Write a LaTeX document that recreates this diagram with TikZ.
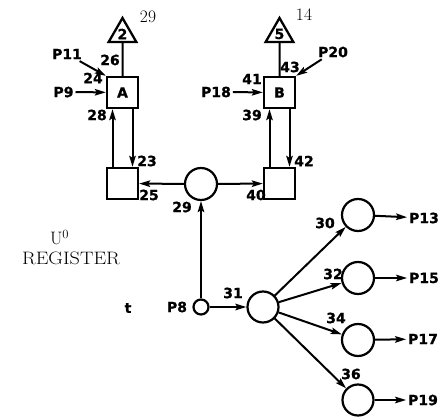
\documentclass[tikz,border=0pt]{standalone}
\usepackage{fontspec}
\newfontfamily\lab[FakeBold=1]{DejaVu Sans Bold}
\usetikzlibrary{arrows.meta,shapes.geometric}
\begin{document}
\begin{tikzpicture}[x=1pt,y=-1pt,line width=2pt,
  lbl/.style={font=\lab\fontsize{14}{14}\selectfont,inner sep=1pt},
  box/.style={draw,line width=2.3pt,minimum size=31pt,inner sep=0pt,font=\lab\fontsize{14}{14}\selectfont},
  circ/.style={draw,circle,line width=2.2pt,minimum size=32pt,inner sep=0pt},
  tri/.style={draw,regular polygon,regular polygon sides=3,minimum size=32pt,inner sep=0pt,line width=2.3pt,font=\lab\fontsize{14}{14}\selectfont},
  arr/.style={-{Stealth[length=11pt,width=6.5pt,inset=2pt]}},
  ser/.style={font=\fontsize{17.5}{17.5}\selectfont,inner sep=0pt,anchor=base},
  reg/.style={font=\fontsize{18}{18}\selectfont,inner sep=0pt}]
\useasboundingbox (0,0) rectangle (440,417);
% main shapes
\node[tri] (t2) at (122.5,34) {2};
\node[tri] (t5) at (279.5,34) {5};
\node[box] (A) at (122.5,92.5) {A};
\node[box] (B) at (279.5,92.5) {B};
\node[box] (L) at (122.5,183.5) {};
\node[box] (R) at (279.5,183.5) {};
\node[circ] (c29) at (201,184) {};
\node[circ,minimum size=15pt] (p8c) at (201,307) {};
\node[circ,minimum size=31pt] (c31) at (263,307) {};
\node[circ] (c30) at (358,215) {};
\node[circ] (c32) at (358,278) {};
\node[circ] (c34) at (358,340) {};
\node[circ,minimum size=31pt] (c36) at (358,400) {};
% text labels
\node[lbl] (p11) at (67,54) {P11};
\node[lbl] (p9) at (63.5,92) {P9};
\node[lbl] (p18) at (216,92) {P18};
\node[lbl] (p20) at (333,52) {P20};
\node[lbl] (p8) at (177,307) {P8};
\node[lbl] (p13) at (424,218) {P13};
\node[lbl] (p15) at (424,278) {P15};
\node[lbl] (p17) at (423,339) {P17};
\node[lbl] (p19) at (423,400) {P19};
\node[lbl] (n26) at (110,60) {26};
\node[lbl] (n24) at (93,78) {24};
\node[lbl] (n28) at (97,115) {28};
\node[lbl] (n23) at (147,161) {23};
\node[lbl] (n25) at (149,195) {25};
\node[lbl] (n29) at (182,207) {29};
\node[lbl] (n40) at (256,195) {40};
\node[lbl] (n41) at (252,79) {41};
\node[lbl] (n39) at (252,115) {39};
\node[lbl] (n42) at (304,161) {42};
\node[lbl] (n43) at (290,67) {43};
\node[lbl] (n30) at (325,223) {30};
\node[lbl] (n32) at (333,274) {32};
\node[lbl] (n34) at (336,318) {34};
\node[lbl] (n36) at (351,374) {36};
\node[lbl] (n31) at (233,293) {31};
\node[lbl] (tt) at (128,308) {t};
\node[ser] (s29) at (148,23) {29};
\node[ser] (s14) at (304,21) {14};
\node[reg,anchor=base west] (u0) at (49,245) {U$^{\mathrm{0}}$};
\node[reg,anchor=base,xscale=1.12] (regt) at (71,265) {REGISTER};
% connectors
\draw (A) -- (t2);
\draw (B) -- (t5);
\draw[arr] (p11) -- (A.north west);
\draw[arr] (p9) -- (A);
\draw[arr] ([xshift=-10pt]L.north) -- ([xshift=-10pt]A.south);
\draw[arr] ([xshift=10pt]A.south) -- ([xshift=10pt]L.north);
\draw[arr] (c29) -- (L);
\draw[arr] (c29) -- (R);
\draw[arr] (p18) -- (B);
\draw[arr] (p20) -- (B.north east);
\draw[arr] ([xshift=-10pt]R.north) -- ([xshift=-10pt]B.south);
\draw[arr] ([xshift=10pt]B.south) -- ([xshift=10pt]R.north);
\draw[arr] (p8c) -- (c29);
\draw[arr] (p8c) -- (c31);
\draw[arr] (c31) -- (c30);
\draw[arr] (c31) -- (c32);
\draw[arr] (c31) -- (c34);
\draw[arr] (c31) -- (c36);
\draw[arr] (c30) -- (p13);
\draw[arr] (c32) -- (p15);
\draw[arr] (c34) -- (p17);
\draw[arr] (c36) -- (p19);
\end{tikzpicture}
\end{document}
